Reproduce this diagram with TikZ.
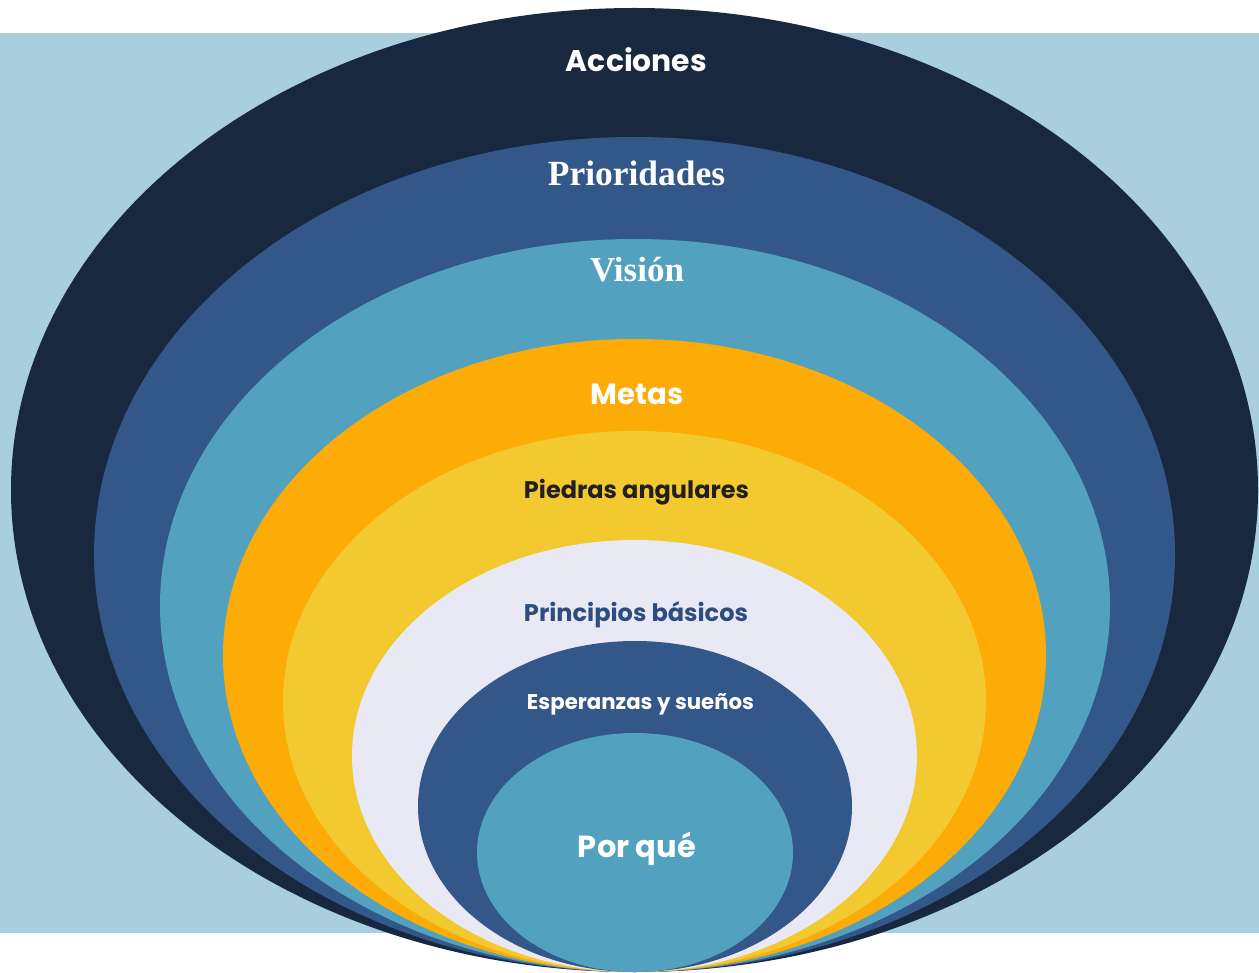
\documentclass[tikz,border=0pt]{standalone}
\usepackage{fontspec}
\setmainfont{Poppins}
\newfontfamily\serifb{Liberation Serif}
\definecolor{bgblue}{HTML}{A9CFDE}
\definecolor{navy}{HTML}{18283E}
\definecolor{midblue}{HTML}{34578A}
\definecolor{teal}{HTML}{52A2BF}
\definecolor{orange}{HTML}{FDAB06}
\definecolor{yellow}{HTML}{F2CA30}
\definecolor{lavender}{HTML}{E9E9F5}
\definecolor{darktext}{HTML}{231F20}
\definecolor{bluetext}{HTML}{2C4D7E}
\newcommand{\fitw}[2]{\resizebox{#1pt}{!}{#2}}
\begin{document}
\begin{tikzpicture}[x=1pt,y=-1pt,
  lbl/.style={inner sep=0pt, anchor=base, font=\bfseries}]
\useasboundingbox (0,0) rectangle (1259,973);
\fill[bgblue] (0,33) rectangle (1259,933);
\fill[navy]     (634.5,490)   ellipse [x radius=623.5pt, y radius=482pt];
\fill[midblue]  (634.5,554.5) ellipse [x radius=540.5pt, y radius=417.5pt];
\fill[teal]     (635,605.5)   ellipse [x radius=475pt, y radius=366.5pt];
\fill[orange]   (634.5,655.5) ellipse [x radius=411.5pt, y radius=316.5pt];
\fill[yellow]   (634.5,701.5) ellipse [x radius=351.5pt, y radius=270.5pt];
\fill[lavender] (634.5,756)   ellipse [x radius=282.5pt, y radius=216pt];
\fill[midblue]  (635,806.5)   ellipse [x radius=217pt, y radius=165.5pt];
\fill[teal]     (635,852.5)   ellipse [x radius=158pt, y radius=119.5pt];
\node[lbl, text=white] (acc) at (636.5,72) {\fitw{141}{Acciones}};
\node[lbl, text=white] (pri) at (636.5,186) {\fitw{177}{\serifb\bfseries Prioridades}};
\node[lbl, text=white] (vis) at (637,282) {\fitw{94}{\serifb\bfseries Visión}};
\node[lbl, text=white] (met) at (637.5,405) {\fitw{93}{Metas}};
\node[lbl, text=darktext] (pie) at (636.5,498) {\fitw{225}{Piedras angulares}};
\node[lbl, text=bluetext] (prb) at (636,621) {\fitw{224}{Principios básicos}};
\node[lbl, text=white] (esp) at (640.5,709) {\fitw{227}{Esperanzas y sueños}};
\node[lbl, text=white] (por) at (637,857) {\fitw{118}{Por qué}};
\end{tikzpicture}
\end{document}
